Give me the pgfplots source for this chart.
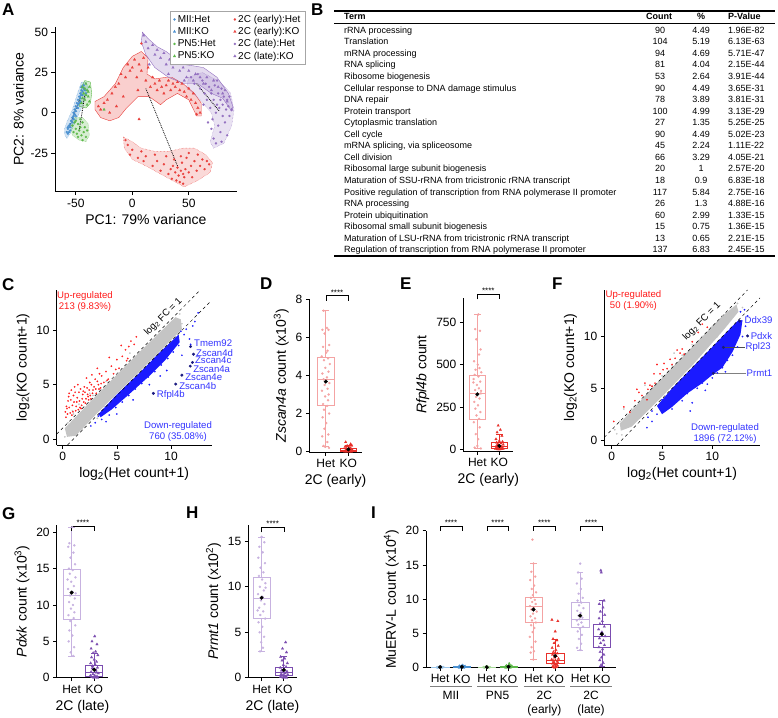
\documentclass[border=0pt]{standalone}
\usepackage{fontspec}
\setmainfont{Liberation Sans}
\usepackage{pgfplots}
\pgfplotsset{compat=1.18}
\usepgfplotslibrary{statistics}
\definecolor{cMII}{HTML}{4A90D0}
\definecolor{cPN}{HTML}{5DB84A}
\definecolor{cE}{HTML}{E8403C}
\definecolor{cL}{HTML}{9370C0}
\definecolor{cUp}{HTML}{FF1A1A}
\definecolor{cDn}{HTML}{1A1AFF}
\definecolor{cGr}{HTML}{C4C4C4}
\definecolor{cGene}{HTML}{3333FF}
\definecolor{cNavy}{HTML}{1A1A80}
\definecolor{cEl}{HTML}{F4A3A3}
\definecolor{cEd}{HTML}{E8302A}
\definecolor{cLl}{HTML}{C7B2E0}
\definecolor{cLd}{HTML}{7B4DB0}
\definecolor{cMIIl}{HTML}{9CC6EA}
\definecolor{cPNl}{HTML}{A8DA9A}
\pgfplotsset{
  base/.style={scale only axis, axis lines=left, axis line style={-,line width=0.7pt},
    tick align=outside, major tick length=3.5pt, tick style={black,line width=0.7pt},
    tick label style={font=\fontsize{12}{14}\selectfont},
    label style={font=\fontsize{14}{16}\selectfont},
    /pgf/number format/assume math mode=true, clip=false},
  bx/.style={base, xtick={0,1}, xticklabels={Het,KO}},
  pt/.style={only marks, mark=*, mark size=1.1pt, mark options={line width=0.2pt}},
  tr/.style={only marks, mark=triangle*, mark size=1.5pt, mark options={line width=0.2pt}},
  sm/.style={only marks, mark=*, mark size=0.8pt, mark options={line width=0.1pt}},
  mean/.style={only marks, mark=*, mark size=1.8pt, black},
  bp/.style={boxplot/draw direction=y, boxplot/whisker extend=0.3},
}
\newcommand{\lab}{\fontsize{9.6}{11}\selectfont}
\newcommand{\stars}{\fontsize{8}{9}\selectfont ****}
\begin{document}
\begin{tikzpicture}
\useasboundingbox (0,0) rectangle (778pt,-717pt);
% panel letters
\begin{scope}[font=\fontsize{17}{17}\selectfont\bfseries, inner sep=0pt]
\node[anchor=north west] at (2pt,-4pt) {A};
\node[anchor=north west] at (311pt,-4pt) {B};
\node[anchor=north west] at (2pt,-278pt) {C};
\node[anchor=north west] at (260pt,-278pt) {D};
\node[anchor=north west] at (400pt,-278pt) {E};
\node[anchor=north west] at (552pt,-278pt) {F};
\node[anchor=north west] at (2pt,-507pt) {G};
\node[anchor=north west] at (186pt,-507pt) {H};
\node[anchor=north west] at (371pt,-507pt) {I};
\end{scope}
% ---------- Panel B table ----------
\draw[line width=1.5pt] (334pt,-11pt) -- (775pt,-11pt);
\draw[line width=0.5pt] (334pt,-23.5pt) -- (775pt,-23.5pt);
\draw[line width=1.5pt] (334pt,-256pt) -- (775pt,-256pt);
\begin{scope}[font=\fontsize{9}{11}\selectfont, inner sep=0pt]
\node[anchor=mid west, font=\fontsize{9}{11}\selectfont\bfseries] at (344pt,-17.3pt) {Term};
\node[anchor=mid, font=\fontsize{9}{11}\selectfont\bfseries] at (659pt,-17.3pt) {Count};
\node[anchor=mid, font=\fontsize{9}{11}\selectfont\bfseries] at (701pt,-17.3pt) {\%};
\node[anchor=mid west, font=\fontsize{9}{11}\selectfont\bfseries] at (728pt,-17.3pt) {P-Value};
\foreach \t/\c/\p/\v [count=\i from 0] in {
 rRNA processing/90/4.49/1.96E-82,
 Translation/104/5.19/6.13E-63,
 mRNA processing/94/4.69/5.71E-47,
 RNA splicing/81/4.04/2.15E-44,
 Ribosome biogenesis/53/2.64/3.91E-44,
 Cellular response to DNA damage stimulus/90/4.49/3.65E-31,
 DNA repair/78/3.89/3.81E-31,
 Protein transport/100/4.99/3.13E-29,
 Cytoplasmic translation/27/1.35/5.25E-25,
 Cell cycle/90/4.49/5.02E-23,
 {mRNA splicing, via spliceosome}/45/2.24/1.11E-22,
 Cell division/66/3.29/4.05E-21,
 Ribosomal large subunit biogenesis/20/1/2.57E-20,
 Maturation of SSU-rRNA from tricistronic rRNA transcript/18/0.9/6.83E-18,
 Positive regulation of transcription from RNA polymerase II promoter/117/5.84/2.75E-16,
 RNA processing/26/1.3/4.88E-16,
 Protein ubiquitination/60/2.99/1.33E-15,
 Ribosomal small subunit biogenesis/15/0.75/1.36E-15,
 Maturation of LSU-rRNA from tricistronic rRNA transcript/13/0.65/2.21E-15,
 Regulation of transcription from RNA polymerase II promoter/137/6.83/2.45E-15}{
 \pgfmathsetmacro{\yy}{-30.7-11.55*\i}
 \node[anchor=mid west] at (344pt,\yy pt) {\t};
 \node[anchor=mid] at (660pt,\yy pt) {\c};
 \node[anchor=mid] at (701pt,\yy pt) {\p};
 \node[anchor=mid west] at (728pt,\yy pt) {\v};
}
\end{scope}
% ---------- Panel A ----------
\begin{axis}[base, at={(55pt,-191.7pt)}, anchor=south west, width=181.7pt, height=165pt,
 xmin=-68.4, xmax=92.4, ymin=-49, ymax=53.4, xtick={-50,0,50}, ytick={-25,0,25,50},
 xlabel={PC1: 79\% variance}, ylabel={PC2: 8\% variance},
 legend columns=4, transpose legend, legend cell align=left,
 legend image code/.code={\draw[mark repeat=2,mark phase=2,#1] plot coordinates {(0pt,0pt) (4pt,0pt) (8pt,0pt)};},
 legend style={at={(0.633,1.093)}, anchor=north west, font=\fontsize{10}{12}\selectfont,
   draw=gray!70, line width=0.4pt, inner xsep=3pt, inner ysep=1.5pt, row sep=-0.5pt,
   /tikz/every even column/.append style={column sep=16pt}}]
% hulls
\addplot[forget plot, fill=cMII, fill opacity=0.25, draw=cMII, densely dotted, line width=0.4pt] coordinates {(-60,-13) (-58,-16) (-55,-13) (-50,-5) (-45,3) (-41,10) (-39,15) (-41,19) (-45,19) (-48,13) (-53,2) (-58,-6) (-60,-10)} -- cycle;
\addplot[forget plot, fill=cPN, fill opacity=0.25, draw=cPN, line width=0.4pt] coordinates {(-47,4) (-45,16) (-42,20) (-37,19) (-36,12) (-37,6) (-41,3)} -- cycle;
\addplot[forget plot, fill=cPN, fill opacity=0.25, draw=cPN, densely dotted, line width=0.4pt] coordinates {(-55,-8) (-51,-3) (-44,-3) (-39,-7) (-38,-14) (-41,-18) (-47,-17) (-53,-14)} -- cycle;
\addplot[forget plot, fill=cE, fill opacity=0.25, draw=cE, line width=0.4pt] coordinates {(-33,7) (-25,10) (-15,18) (-8,28) (0,35) (8,38) (14,34) (13,24) (20,21) (30,22) (35,22) (45,18) (55,12) (61,6) (61,-2) (57,-2) (50,8) (40,12) (30,8) (25,5) (15,10) (5,10) (-5,3) (-12,-3) (-20,-5) (-28,-3) (-33,2)} -- cycle;
\addplot[forget plot, fill=cE, fill opacity=0.2, draw=cE, densely dotted, line width=0.4pt] coordinates {(-8,-15) (0,-18) (8,-22) (20,-24) (32,-24) (45,-22) (55,-22) (65,-26) (71,-31) (69,-37) (58,-42) (46,-46) (38,-43) (25,-38) (12,-33) (0,-29) (-7,-22)} -- cycle;
\addplot[forget plot, fill=cL, fill opacity=0.25, draw=cL, line width=0.4pt] coordinates {(9,50) (14,46) (22,41) (30,38) (45,30) (55,29) (63,28) (75,22) (85,12) (89,4) (88,1) (80,9) (70,12) (58,18) (46,18) (32,22) (20,28) (12,36) (8,44)} -- cycle;
\addplot[forget plot, fill=cL, fill opacity=0.2, draw=cL, densely dotted, line width=0.4pt] coordinates {(50,22) (62,25) (78,19) (87,12) (90,2) (88,-8) (81,-19) (72,-22) (69,-18) (73,-8) (70,0) (60,8) (48,16)} -- cycle;
% centroid links
\addplot[forget plot, black, densely dotted, line width=0.8pt] coordinates {(-56,-9) (-46,9)};
\addplot[forget plot, black, densely dotted, line width=0.8pt] coordinates {(-47,-11) (-42,11)};
\addplot[forget plot, black, densely dotted, line width=0.8pt] coordinates {(12,15) (40,-33)};
\addplot[forget plot, black, densely dotted, line width=0.8pt] coordinates {(57,18) (77,1)};
% points
\addplot[pt, cMII] coordinates {(-58,-12) (-57,-10) (-56,-8) (-55,-11) (-54,-5) (-53,-3) (-52,0) (-51,2) (-50,4) (-49,6) (-48,8) (-47,10) (-46,12) (-45,14) (-44,16) (-43,15) (-44,11) (-46,7) (-48,3) (-57,-13) (-55,-7) (-52,-2)};
\addlegendentry{MII:Het}
\addplot[tr, cMII] coordinates {(-57,-9) (-56,-12) (-55,-9) (-53,-6) (-52,-4) (-51,-1) (-50,1) (-49,3) (-47,6) (-46,9) (-45,11) (-44,13) (-43,17) (-42,14) (-41,12) (-45,16) (-48,5) (-50,-2)};
\addlegendentry{MII:KO}
\addplot[pt, cPN] coordinates {(-53,-8) (-51,-6) (-50,-10) (-49,-13) (-48,-7) (-47,-11) (-46,-9) (-45,-14) (-44,-6) (-43,-12) (-42,-9) (-41,-15) (-40,-11) (-48,-15) (-52,-12) (-44,-17) (-46,-4) (-50,-5)};
\addlegendentry{PN5:Het}
\addplot[tr, cPN] coordinates {(-45,6) (-44,9) (-43,12) (-42,15) (-41,18) (-40,14) (-39,10) (-38,7) (-40,5) (-42,8) (-44,16) (-38,16) (-41,11) (-39,13) (-25,2)};
\addlegendentry{PN5:KO}
\addplot[pt, cE] coordinates {(-6,-17) (-4,-20) (-2,-26) (0,-23) (5,-28) (10,-30) (12,-27) (18,-33) (22,-30) (25,-36) (28,-32) (30,-27) (32,-38) (34,-35) (35,-41) (37,-29) (38,-37) (40,-34) (41,-39) (42,-43) (43,-36) (44,-31) (45,-38) (46,-40) (47,-35) (48,-28) (50,-37) (52,-33) (53,-40) (55,-30) (57,-36) (58,-26) (60,-33) (62,-29) (64,-35) (66,-30) (68,-32) (45,-44) (39,-42) (36,-33) (50,-25) (20,-26) (8,-24) (43,-27) (8,43)};
\addlegendentry{2C (early):Het}
\addplot[tr, cE] coordinates {(-30,4) (-28,2) (-25,6) (-22,8) (-18,12) (-15,16) (-12,18) (-10,24) (-6,22) (-4,30) (-2,26) (0,28) (2,33) (4,22) (6,30) (8,26) (10,34) (12,20) (14,28) (16,16) (18,22) (20,18) (22,14) (24,20) (26,16) (28,12) (30,17) (32,20) (34,14) (36,18) (38,16) (40,19) (42,14) (44,18) (46,13) (48,10) (50,15) (52,8) (54,12) (56,6) (58,3) (60,0) (57,-1) (-8,10) (-20,0) (-14,4) (6,-4) (5,14)};
\addlegendentry{2C (early):KO}
\addplot[pt, cL] coordinates {(52,22) (55,18) (58,24) (60,15) (62,20) (64,12) (65,18) (66,8) (68,16) (69,3) (70,12) (71,-4) (72,8) (73,17) (74,0) (75,5) (76,12) (76,-8) (77,3) (78,-12) (78,8) (79,15) (80,-2) (80,5) (81,10) (82,-6) (82,14) (83,2) (84,8) (84,-14) (85,4) (86,-2) (72,-16) (74,-19) (70,-10) (67,-6) (79,-18) (86,10) (63,5) (75,20)};
\addlegendentry{2C (late):Het}
\addplot[tr, cL] coordinates {(10,48) (12,44) (14,40) (18,42) (20,36) (22,39) (25,34) (28,37) (30,30) (33,33) (36,28) (38,31) (42,26) (45,28) (48,22) (50,26) (54,20) (56,24) (60,22) (63,18) (66,22) (70,14) (72,20) (76,16) (80,12) (84,7) (15,30) (32,24) (46,20) (88,2)};
\addlegendentry{2C (late):KO}
\end{axis}
% ---------- Panel C ----------
\begin{axis}[base, at={(56.7pt,-445pt)}, anchor=south west, width=155pt, height=155pt,
 xmin=-0.55, xmax=13.75, ymin=-0.55, ymax=13.7, xtick={0,5,10}, ytick={0,5,10},
 xlabel={log\textsubscript{2}(Het count+1)}, ylabel={log\textsubscript{2}(KO count+1)}]
\addplot[fill=cGr, draw=none] coordinates {(0.2,1.0) (3,3.9) (7,7.9) (10.4,11.2) (10.9,11) (11,10.1) (7.5,6.6) (3.5,2.7) (1.2,0.3) (0.4,0.2)} -- cycle;
\addplot[sm, cGr] coordinates {(0.3,0.9) (0.5,1.5) (0.8,0.4) (1.2,1.9) (1.5,1.2) (2,2.6) (2.2,1.5) (2.6,3.3) (3,2.4) (3.4,4.1) (3.8,3) (4.2,5) (4.5,3.8) (5,5.8) (5.3,4.6) (5.7,6.5) (6,5.3) (6.5,7.3) (6.8,6) (7.2,8) (7.5,6.8) (8,8.8) (8.3,7.5) (8.7,9.5) (9,8.3) (9.5,10.2) (9.8,9) (10.2,10.9) (10.5,9.8) (10.8,11.5) (11,10.6) (6.2,7.9) (4,5.3) (2.8,4) (1,2.3) (0.2,0.2) (1.8,0.9) (3.2,1.9) (1.5,3.2) (2.5,4.2) (0.9,2.6)};
\addplot[sm, cUp] coordinates {(0.3,2) (0.4,2.8) (0.5,3.5) (0.7,2.4) (0.9,3.1) (1,4) (1.2,2.6) (1.3,3.4) (1.5,4.3) (1.6,2.9) (1.8,3.7) (2,4.8) (2.1,3.3) (2.3,4.1) (2.5,5.2) (2.6,3.7) (2.8,4.5) (3,5.5) (3.1,4.2) (3.3,5) (3.5,4.7) (3.6,5.8) (3.8,5.2) (4,6.2) (4.2,5.5) (4.5,6.7) (4.7,6) (5,7.3) (5.2,6.5) (5.5,7.6) (5.8,8.2) (6,7.4) (6.3,9) (6.6,8.7) (6.8,9.4) (3.2,6.5) (2.2,5.6) (1.1,4.8) (0.6,4.2) (4.3,7.5) (5.4,8.6) (0.35,3.0) (0.8,4.5) (1.4,5.0) (1.9,4.4) (2.7,5.9) (3.4,6.0) (4.1,5.4) (4.9,6.4) (5.9,7.2) (6.1,8.5) (2.4,3.6) (1.7,2.8) (0.45,2.3) (0.6,2.9) (0.75,3.6) (0.95,2.5) (1.05,3.4) (1.15,4.3) (1.25,3.0) (1.35,3.8) (1.45,2.7) (1.55,3.5) (1.65,4.6) (1.75,3.1) (1.85,4.1) (1.95,3.4) (2.05,4.3) (2.15,3.7) (2.25,4.7) (2.35,3.9) (2.45,4.5) (2.55,4.0) (2.65,5.0) (2.75,4.2) (2.9,4.8) (3.05,4.6) (3.2,5.3) (3.35,4.6) (3.55,5.1) (0.55,3.9) (0.25,2.5) (0.85,2.2)};
\addplot[fill=cDn, draw=none] coordinates {(3.3,2.3) (5,4.1) (7,6) (9,8) (10.7,9.6) (10.8,8.9) (9.5,7.3) (8,5.8) (6,4) (4.5,2.7) (3.5,2)} -- cycle;
\addplot[sm, cDn] coordinates {(2.6,1.2) (3,1.5) (3.3,2.1) (3.6,1.8) (4,2.8) (4.3,2.2) (4.6,3.4) (4.9,2.9) (5.2,4) (5.5,3.4) (5.8,4.6) (6.1,4) (6.4,5.2) (6.7,4.6) (7,5.8) (7.3,5.1) (7.6,6.4) (7.9,5.7) (8.2,7) (8.5,6.2) (8.8,7.6) (9.1,6.8) (9.4,8.2) (9.7,7.4) (10,8.8) (10.2,8) (10.5,9.3) (10.7,8.6) (10.9,9.9) (11.2,9.6) (11.4,10.1) (11.7,9.2) (12,10.4) (12.2,10.8) (12.5,11.6) (11.8,8.7) (9.6,6.3) (8,5) (6.5,3.6) (5,2.3) (4,1.6) (11,7.7) (9,5.8)};
\addplot[only marks, mark=*, mark size=1.3pt, cNavy] coordinates {(11.8,8.5) (12.07,7.8) (11.97,7.04) (11.77,6.7) (11.0,5.87) (10.43,5.05) (8.37,4.2)};
\addplot[black, dashed, line width=0.5pt] coordinates {(-0.55,0.45) (12.7,13.7)};
\addplot[black, dashed, line width=0.5pt] coordinates {(0.45,-0.55) (13.6,12.6)};
\node[rotate=45, font=\lab] at (axis cs:9.29,11.22) {log\textsubscript{2} FC = 1};
\node[font=\lab, text=cUp, align=center] at (axis cs:2.06,12.65) {Up-regulated\\213 (9.83\%)};
\node[font=\lab, text=cGene, align=center] at (axis cs:10.64,0.67) {Down-regulated\\760 (35.08\%)};
\node[font=\lab, text=cGene, inner sep=0pt, anchor=west] at (axis cs:12.12,8.78) {Tmem92};
\node[font=\lab, text=cGene, inner sep=0pt, anchor=west] at (axis cs:12.3,7.92) {Zscan4d};
\node[font=\lab, text=cGene, inner sep=0pt, anchor=west] at (axis cs:12.2,7.25) {Zscan4c};
\node[font=\lab, text=cGene, inner sep=0pt, anchor=west] at (axis cs:12.03,6.42) {Zscan4a};
\node[font=\lab, text=cGene, inner sep=0pt, anchor=west] at (axis cs:11.3,5.71) {Zscan4e};
\node[font=\lab, text=cGene, inner sep=0pt, anchor=west] at (axis cs:10.74,4.86) {Zscan4b};
\node[font=\lab, text=cGene, inner sep=0pt, anchor=west] at (axis cs:8.68,4.04) {Rfpl4b};
\end{axis}
% ---------- Panel F ----------
\begin{axis}[base, at={(604.3pt,-445pt)}, anchor=south west, width=155.7pt, height=155pt,
 xmin=-0.74, xmax=14.74, ymin=-0.48, ymax=14.5, xtick={0,5,10}, ytick={0,5,10},
 xlabel={log\textsubscript{2}(Het count+1)}, ylabel={log\textsubscript{2}(KO count+1)}]
\addplot[fill=cGr, draw=none] coordinates {(0.8,1.6) (4,5) (8,9) (11,12) (12.4,13.1) (12.6,12.4) (11,10.5) (8,7.2) (5,4.2) (2,1.3) (0.9,0.9)} -- cycle;
\addplot[sm, cGr] coordinates {(0.3,1) (0.8,1.8) (1.5,1.5) (2,3) (2.5,2.2) (3,4) (3.5,3) (4,5.2) (4.5,4) (5,6.2) (5.5,5.2) (6,7.2) (6.5,6.2) (7,8.2) (7.5,7) (8,9.2) (8.5,8) (9,10) (9.5,9) (10,11) (10.5,10) (11,12) (11.5,11.2) (12,12.7) (12.5,13.2) (13,12.8) (1.2,3) (3.3,5.3) (6.2,8.4) (0.5,0.6) (1.0,0.5) (2.8,2.3) (3.8,3.2)};
\addplot[fill=cDn, draw=none] coordinates {(4.5,3.3) (6,5) (8,7) (10,9) (11.5,10.5) (12.5,11.5) (13,11.6) (12.8,10.2) (12,8.5) (11,7) (10,6.3) (9,5.5) (7.5,4.5) (6,3.2) (5,2.5)} -- cycle;
\addplot[sm, cDn] coordinates {(3.5,1.2) (4,1.8) (4.5,2.5) (5,2.8) (5.5,3.5) (6,3) (6.5,4.2) (7,3.8) (7.5,4.5) (8,3.6) (8.5,5) (9,5.5) (9.5,5.4) (10,6) (10.5,6.5) (11,7) (11.5,7.7) (12,8.2) (12.5,9) (13,10) (13.3,11) (13.5,12) (13.2,12.6) (12.8,12.4) (4,2.8) (5,3.9) (6.2,5) (3.6,2.2) (7.8,2.8) (9.3,4.8) (11.3,6.6)};
\addplot[sm, cUp] coordinates {(0.2,1.8) (1.2,3.2) (1.8,2.7) (2.3,3.8) (2.7,4.6) (3,4.3) (3.3,5.5) (3.6,4.9) (3.8,5.3) (4,5.2) (4.3,5.5) (4.5,7.3) (4.8,6.4) (5.1,6.8) (5.5,6.9) (5.8,7.8) (6,7.3) (6.3,7.9) (6.8,8.4) (7,8.8) (7.2,8.3) (8,9.5) (8.6,10.4) (9,11.2) (9.5,10.9) (3.5,3.9) (2.5,4.9) (5.2,7.4) (4.2,6.4) (6.5,8.7)};
\addplot[only marks, mark=*, mark size=1.3pt, cNavy] coordinates {(12.7,11.5) (13.5,10.06) (11.1,8.96) (10.1,6.45)};
\addplot[black!70, line width=0.6pt] coordinates {(11.1,8.96) (13.2,8.96)};
\addplot[black!50, line width=0.6pt] coordinates {(10.1,6.45) (13.3,6.45)};
\addplot[black, dashed, line width=0.5pt] coordinates {(-0.74,0.26) (13.5,14.5)};
\addplot[black, dashed, line width=0.5pt] coordinates {(0.52,-0.48) (14.74,13.74)};
\node[rotate=45, font=\lab] at (axis cs:8.95,11.45) {log\textsubscript{2} FC = 1};
\node[font=\lab, text=cUp, align=center] at (axis cs:2.16,13.47) {Up-regulated\\50 (1.90\%)};
\node[font=\lab, text=cGene, align=center] at (axis cs:11.26,0.6) {Down-regulated\\1896 (72.12\%)};
\node[font=\lab, text=cGene, inner sep=0pt, anchor=west] at (axis cs:13.2,11.6) {Ddx39};
\node[font=\lab, text=cGene, inner sep=0pt, anchor=west] at (axis cs:13.8,10.06) {Pdxk};
\node[font=\lab, text=cGene, inner sep=0pt, anchor=west] at (axis cs:13.3,8.96) {Rpl23};
\node[font=\lab, text=cGene, inner sep=0pt, anchor=west] at (axis cs:13.4,6.45) {Prmt1};
\end{axis}
% ---------- Panel D ----------
\begin{axis}[bx, at={(309.3pt,-452pt)}, anchor=south west, width=52.4pt, height=152.7pt,
 xmin=-0.73, xmax=1.59, ymin=-0.02, ymax=8, ytick={0,2,4,6,8},
 xlabel={2C (early)}, ylabel={\textit{Zscan4a} count (x10\textsuperscript{3})}]
\addplot[bp, cEl, line width=0.6pt, boxplot prepared={draw position=0, lower whisker=0.3, lower quartile=2.45, median=3.8, upper quartile=4.93, upper whisker=7.4, box extend=0.75}] coordinates {};
\addplot[bp, cEd, line width=0.7pt, boxplot prepared={draw position=1, lower whisker=0, lower quartile=0.02, median=0.08, upper quartile=0.17, upper whisker=0.35, box extend=0.75}] coordinates {};
\addplot[pt, cEl] coordinates {(-0.1,7.4) (0.05,6.5) (-0.15,6.4) (0.12,6.4) (-0.05,6.2) (0.15,5.6) (-0.12,5.5) (0.08,5.3) (0.02,5.2) (-0.18,5.0) (0.1,4.9) (-0.08,4.8) (0.18,4.6) (-0.02,4.4) (0.12,4.2) (-0.15,4.1) (0.05,3.9) (-0.1,3.8) (0.16,3.6) (-0.05,3.5) (0.08,3.3) (-0.17,3.2) (0.13,3.0) (-0.03,2.9) (0.1,2.7) (-0.12,2.5) (0.06,2.4) (-0.08,2.2) (0.15,2.0) (-0.14,1.8) (0.02,1.5) (-0.06,1.2) (0.11,0.9) (-0.16,0.8) (0.07,0.5) (-0.1,0.3) (0.14,0.2) (-0.02,0.25)};
\addplot[tr, cEd] coordinates {(0.88,0.5) (1.1,0.4) (0.95,0.3) (1.15,0.32) (0.85,0.25) (1.05,0.2) (0.92,0.15) (1.12,0.12) (0.98,0.1) (1.18,0.08) (0.86,0.05) (1.02,0.03) (0.9,0.02) (1.08,0.01) (0.96,0.0) (1.14,0.0) (0.84,0.0) (1.0,0.06) (1.1,0.18) (0.93,0.28)};
\addplot[mean] coordinates {(0,3.68) (1,0.12)};
\draw[line width=0.5pt] (axis cs:0,7.93) -- (axis cs:0,8.19) -- (axis cs:1,8.19) -- (axis cs:1,7.93);
\node[anchor=south, inner sep=1pt] at (axis cs:0.5,8.15) {\stars};
\end{axis}
% ---------- Panel E (values in hundreds) ----------
\begin{axis}[bx, at={(463.3pt,-451pt)}, anchor=south west, width=50pt, height=152.7pt,
 xmin=-0.64, xmax=1.64, ymin=-0.1, ymax=8.92, ytick={0,2.5,5,7.5}, yticklabels={0,250,500,750},
 xlabel={2C (early)}, ylabel={\textit{Rfpl4b} count}]
\addplot[bp, cEl, line width=0.6pt, boxplot prepared={draw position=0, lower whisker=0.05, lower quartile=1.78, median=3.33, upper quartile=4.35, upper whisker=7.97, box extend=0.75}] coordinates {};
\addplot[bp, cEd, line width=0.7pt, boxplot prepared={draw position=1, lower whisker=0, lower quartile=0.05, median=0.18, upper quartile=0.42, upper whisker=0.9, box extend=0.75}] coordinates {};
\addplot[pt, cEl] coordinates {(0.05,7.97) (-0.1,7.1) (0.12,7.0) (-0.05,6.5) (0.15,5.9) (0.08,5.6) (-0.15,5.2) (0.02,5.0) (0.1,4.8) (-0.08,4.7) (0.18,4.55) (-0.12,4.4) (0.05,4.3) (-0.17,4.15) (0.13,4.0) (-0.02,3.8) (0.07,3.6) (-0.1,3.5) (0.16,3.3) (-0.06,3.1) (0.1,3.0) (-0.14,2.8) (0.03,2.6) (-0.09,2.4) (0.14,2.2) (-0.04,2.0) (0.08,1.8) (-0.16,1.6) (0.11,1.3) (-0.07,0.9) (0.04,0.6) (-0.12,0.1) (0.16,0.05) (0,0.2) (-0.18,3.95) (0.17,3.45)};
\addplot[tr, cEd] coordinates {(0.95,1.4) (1.05,1.15) (0.9,1.0) (1.12,0.8) (0.85,0.6) (1.0,0.5) (1.15,0.45) (0.88,0.4) (1.08,0.35) (0.93,0.3) (1.18,0.28) (0.97,0.25) (1.02,0.2) (0.86,0.18) (1.1,0.15) (0.91,0.12) (1.14,0.1) (0.99,0.08) (1.06,0.05) (0.83,0.03) (1.17,0.02) (0.94,0) (1.03,0)};
\addplot[mean] coordinates {(0,3.25) (1,0.2)};
\draw[line width=0.5pt] (axis cs:0,8.86) -- (axis cs:0,9.15) -- (axis cs:1,9.15) -- (axis cs:1,8.86);
\node[anchor=south, inner sep=1pt] at (axis cs:0.5,9.11) {\stars};
\end{axis}
% ---------- Panel G ----------
\begin{axis}[bx, at={(56.7pt,-677.7pt)}, anchor=south west, width=51.6pt, height=152.7pt,
 xmin=-0.66, xmax=1.62, ymin=0, ymax=21, ytick={0,5,10,15,20},
 xlabel={2C (late)}, ylabel={\textit{Pdxk} count (x10\textsuperscript{3})}]
\addplot[bp, cLl, line width=0.6pt, boxplot prepared={draw position=0, lower whisker=3.0, lower quartile=8.0, median=11.3, upper quartile=14.9, upper whisker=20.7, box extend=0.75}] coordinates {};
\addplot[bp, cLd, line width=0.7pt, boxplot prepared={draw position=1, lower whisker=0, lower quartile=0.2, median=0.8, upper quartile=1.7, upper whisker=3.4, box extend=0.75}] coordinates {};
\addplot[pt, cLl] coordinates {(0.02,20.7) (-0.1,18.5) (0.12,18.2) (-0.15,18.0) (0.08,17.2) (-0.05,16.5) (0.15,15.6) (-0.12,15.0) (0.05,14.8) (-0.08,14.3) (0.17,13.8) (-0.02,13.2) (0.1,12.6) (-0.16,12.2) (0.04,11.8) (-0.07,11.3) (0.14,10.9) (-0.11,10.4) (0.06,10.0) (-0.03,9.5) (0.12,9.0) (-0.14,8.6) (0.09,8.2) (-0.06,7.8) (0.16,7.2) (-0.1,6.5) (0.03,5.8) (-0.13,5.0) (0.11,4.2) (-0.04,3.5) (0.07,3.0) (0.18,11.6) (-0.18,13.5)};
\addplot[tr, cLd] coordinates {(1.02,5.7) (0.9,5.0) (1.12,4.6) (0.86,4.0) (1.06,3.6) (0.95,3.4) (1.16,3.1) (0.88,2.8) (1.0,2.5) (1.1,2.2) (0.84,2.0) (1.04,1.8) (0.92,1.6) (1.14,1.4) (0.97,1.2) (1.08,1.0) (0.86,0.8) (1.18,0.6) (0.94,0.5) (1.02,0.3) (1.12,0.2) (0.89,0.1) (1.06,0.05) (0.98,0.0) (1.15,0.0) (0.83,0.3) (1.09,0.7) (0.91,1.3)};
\addplot[mean] coordinates {(0,11.7) (1,1.1)};
\draw[line width=0.5pt] (axis cs:0,20.2) -- (axis cs:0,20.8) -- (axis cs:1,20.8) -- (axis cs:1,20.2);
\node[anchor=south, inner sep=1pt] at (axis cs:0.5,20.7) {\stars};
\end{axis}
% ---------- Panel H ----------
\begin{axis}[bx, at={(248.3pt,-677.7pt)}, anchor=south west, width=48.4pt, height=152.7pt,
 xmin=-0.6, xmax=1.58, ymin=0, ymax=16.8, ytick={0,5,10,15},
 xlabel={2C (late)}, ylabel={\textit{Prmt1} count (x10\textsuperscript{2})}]
\addplot[bp, cLl, line width=0.6pt, boxplot prepared={draw position=0, lower whisker=2.9, lower quartile=6.5, median=8.7, upper quartile=11.1, upper whisker=15.5, box extend=0.75}] coordinates {};
\addplot[bp, cLd, line width=0.7pt, boxplot prepared={draw position=1, lower whisker=0, lower quartile=0.3, median=0.6, upper quartile=1.1, upper whisker=2.3, box extend=0.75}] coordinates {};
\addplot[pt, cLl] coordinates {(0.0,15.5) (0.12,14.9) (-0.1,14.4) (0.05,13.8) (-0.15,13.2) (0.15,12.6) (-0.05,12.1) (0.08,11.6) (-0.12,11.2) (0.02,10.8) (0.17,10.4) (-0.08,10.0) (0.1,9.6) (-0.16,9.2) (0.04,8.9) (-0.03,8.5) (0.13,8.1) (-0.11,7.7) (0.07,7.3) (-0.06,6.9) (0.16,6.5) (-0.14,6.1) (0.03,5.6) (-0.09,5.0) (0.11,4.5) (-0.02,3.9) (0.06,3.3) (-0.07,2.9) (0.18,9.9) (-0.18,7.4)};
\addplot[tr, cLd] coordinates {(1.08,3.9) (0.94,3.2) (1.12,2.8) (0.86,2.3) (1.04,2.1) (0.92,1.9) (1.16,1.6) (0.98,1.4) (1.1,1.2) (0.84,1.1) (1.02,0.9) (0.9,0.8) (1.14,0.7) (0.96,0.6) (1.06,0.5) (0.88,0.4) (1.18,0.35) (1.0,0.3) (0.93,0.2) (1.1,0.15) (0.85,0.1) (1.04,0.05) (0.97,0.0) (1.13,0.0)};
\addplot[mean] coordinates {(0,8.8) (1,0.85)};
\draw[line width=0.5pt] (axis cs:0,16.0) -- (axis cs:0,16.6) -- (axis cs:1,16.6) -- (axis cs:1,16.0);
\node[anchor=south, inner sep=1pt] at (axis cs:0.5,16.5) {\stars};
\end{axis}
% ---------- Panel I ----------
\begin{axis}[base, at={(426pt,-667.7pt)}, anchor=south west, width=190pt, height=137pt,
 xmin=-0.65, xmax=8.1, ymin=0, ymax=20, ytick={0,5,10,15,20},
 xtick={0,1,2.15,3.15,4.3,5.3,6.45,7.45}, xticklabels={Het,KO,Het,KO,Het,KO,Het,KO},
 ylabel={MuERV-L count (x10\textsuperscript{4})}]
\addplot[bp, cMIIl, line width=0.6pt, boxplot prepared={draw position=0, lower whisker=0, lower quartile=0.03, median=0.07, upper quartile=0.12, upper whisker=0.2, box extend=0.8}] coordinates {};
\addplot[bp, cMII, line width=0.6pt, boxplot prepared={draw position=1, lower whisker=0, lower quartile=0.04, median=0.1, upper quartile=0.18, upper whisker=0.35, box extend=0.8}] coordinates {};
\addplot[bp, cPNl, line width=0.6pt, boxplot prepared={draw position=2.15, lower whisker=0, lower quartile=0.03, median=0.07, upper quartile=0.12, upper whisker=0.2, box extend=0.8}] coordinates {};
\addplot[bp, cPN, line width=0.6pt, boxplot prepared={draw position=3.15, lower whisker=0, lower quartile=0.04, median=0.1, upper quartile=0.2, upper whisker=0.4, box extend=0.8}] coordinates {};
\addplot[bp, cEl, line width=0.6pt, boxplot prepared={draw position=4.3, lower whisker=1.2, lower quartile=6.7, median=8.9, upper quartile=10.3, upper whisker=15.2, box extend=0.8}] coordinates {};
\addplot[bp, cEd, line width=0.7pt, boxplot prepared={draw position=5.3, lower whisker=0, lower quartile=0.7, median=1.1, upper quartile=2.1, upper whisker=4.2, box extend=0.8}] coordinates {};
\addplot[bp, cLl, line width=0.6pt, boxplot prepared={draw position=6.45, lower whisker=2.6, lower quartile=5.9, median=7.1, upper quartile=9.5, upper whisker=13.9, box extend=0.8}] coordinates {};
\addplot[bp, cLd, line width=0.7pt, boxplot prepared={draw position=7.45, lower whisker=0.2, lower quartile=3.0, median=4.6, upper quartile=6.4, upper whisker=9.8, box extend=0.8}] coordinates {};
\addplot[pt, cMIIl] coordinates {(-0.15,0.05) (-0.1,0.12) (-0.05,0.02) (0,0.08) (0.05,0.15) (0.1,0.04) (0.15,0.1) (-0.12,0.0) (0.08,0.0) (0.02,0.2)};
\addplot[tr, cMII] coordinates {(0.85,0.1) (0.9,0.25) (0.95,0.05) (1.0,0.15) (1.05,0.3) (1.1,0.08) (1.15,0.2) (0.88,0.0) (1.08,0.0) (1.02,0.35)};
\addplot[pt, cPNl] coordinates {(2.0,0.1) (2.05,0.04) (2.1,0.16) (2.15,0.07) (2.2,0.12) (2.25,0.02) (2.3,0.09) (2.03,0.0) (2.22,0.0) (2.17,0.22)};
\addplot[tr, cPN] coordinates {(3.0,0.12) (3.05,0.3) (3.1,0.05) (3.15,0.2) (3.2,0.45) (3.25,0.1) (3.3,0.25) (3.03,0.0) (3.22,0.0) (3.18,0.6)};
\addplot[pt, cEl] coordinates {(4.25,18.7) (4.3,15.2) (4.2,14.0) (4.38,13.3) (4.15,12.8) (4.33,12.0) (4.22,11.5) (4.42,11.0) (4.27,10.6) (4.18,10.2) (4.36,9.9) (4.24,9.6) (4.4,9.3) (4.14,9.0) (4.31,8.8) (4.2,8.5) (4.45,8.2) (4.28,7.9) (4.16,7.5) (4.37,7.2) (4.23,6.9) (4.41,6.6) (4.19,6.2) (4.34,5.8) (4.26,5.2) (4.13,4.5) (4.39,3.8) (4.21,3.0) (4.32,2.4) (4.17,2.2) (4.29,1.2)};
\addplot[tr, cEd] coordinates {(5.15,7.0) (5.42,6.8) (5.3,5.3) (5.2,4.2) (5.38,4.0) (5.25,3.6) (5.44,3.2) (5.16,2.9) (5.33,2.6) (5.22,2.3) (5.4,2.1) (5.18,1.9) (5.35,1.7) (5.27,1.5) (5.45,1.3) (5.14,1.2) (5.31,1.1) (5.21,1.0) (5.39,0.9) (5.24,0.8) (5.43,0.7) (5.17,0.6) (5.34,0.5) (5.26,0.4) (5.41,0.3) (5.19,0.2) (5.36,0.1) (5.28,0.0)};
\addplot[pt, cLl] coordinates {(6.45,15.2) (6.35,13.9) (6.52,13.0) (6.3,12.3) (6.48,11.5) (6.38,10.8) (6.57,10.2) (6.33,9.8) (6.5,9.5) (6.4,9.1) (6.6,8.7) (6.32,8.3) (6.47,8.0) (6.37,7.6) (6.55,7.3) (6.42,7.1) (6.3,6.9) (6.51,6.6) (6.36,6.3) (6.58,6.0) (6.44,5.7) (6.34,5.3) (6.53,4.8) (6.39,4.2) (6.49,3.5) (6.31,2.9) (6.46,2.6)};
\addplot[tr, cLd] coordinates {(7.4,14.2) (7.42,13.9) (7.55,9.8) (7.33,9.3) (7.5,8.8) (7.38,8.2) (7.58,7.7) (7.32,7.2) (7.47,6.8) (7.36,6.4) (7.56,6.0) (7.3,5.6) (7.45,5.2) (7.4,4.9) (7.6,4.6) (7.34,4.3) (7.52,4.0) (7.39,3.6) (7.57,3.3) (7.31,3.0) (7.48,2.7) (7.37,2.3) (7.54,1.9) (7.43,1.5) (7.35,1.1) (7.51,0.7) (7.41,0.4) (7.46,0.2)};
\addplot[mean] coordinates {(0,0.08) (1,0.12) (2.15,0.08) (3.15,0.14) (4.3,8.5) (5.3,1.7) (6.45,7.6) (7.45,4.9)};
\draw[line width=0.5pt] (axis cs:0,20.0) -- (axis cs:0,20.7) -- (axis cs:1,20.7) -- (axis cs:1,20.0);
\draw[line width=0.5pt] (axis cs:2.15,20.0) -- (axis cs:2.15,20.7) -- (axis cs:3.15,20.7) -- (axis cs:3.15,20.0);
\draw[line width=0.5pt] (axis cs:4.3,20.0) -- (axis cs:4.3,20.7) -- (axis cs:5.3,20.7) -- (axis cs:5.3,20.0);
\draw[line width=0.5pt] (axis cs:6.45,20.0) -- (axis cs:6.45,20.7) -- (axis cs:7.45,20.7) -- (axis cs:7.45,20.0);
\node[anchor=south, inner sep=1pt] at (axis cs:0.5,20.6) {\stars};
\node[anchor=south, inner sep=1pt] at (axis cs:2.65,20.6) {\stars};
\node[anchor=south, inner sep=1pt] at (axis cs:4.8,20.6) {\stars};
\node[anchor=south, inner sep=1pt] at (axis cs:6.95,20.6) {\stars};
\draw[gray, line width=0.6pt] ([yshift=-18.3pt]axis cs:-0.45,0) -- ([yshift=-18.3pt]axis cs:1.45,0);
\draw[gray, line width=0.6pt] ([yshift=-18.3pt]axis cs:1.7,0) -- ([yshift=-18.3pt]axis cs:3.6,0);
\draw[gray, line width=0.6pt] ([yshift=-18.3pt]axis cs:3.85,0) -- ([yshift=-18.3pt]axis cs:5.75,0);
\draw[gray, line width=0.6pt] ([yshift=-18.3pt]axis cs:6.0,0) -- ([yshift=-18.3pt]axis cs:7.9,0);
\node[font=\fontsize{12}{14}\selectfont, inner sep=0pt, align=center, anchor=north] at ([yshift=-23pt]axis cs:0.5,0) {MII};
\node[font=\fontsize{12}{14}\selectfont, inner sep=0pt, align=center, anchor=north] at ([yshift=-23pt]axis cs:2.65,0) {PN5};
\node[font=\fontsize{12}{14}\selectfont, inner sep=0pt, align=center, anchor=north] at ([yshift=-23pt]axis cs:4.8,0) {2C\\(early)};
\node[font=\fontsize{12}{14}\selectfont, inner sep=0pt, align=center, anchor=north] at ([yshift=-23pt]axis cs:6.95,0) {2C\\(late)};
\end{axis}
\end{tikzpicture}
\end{document}
